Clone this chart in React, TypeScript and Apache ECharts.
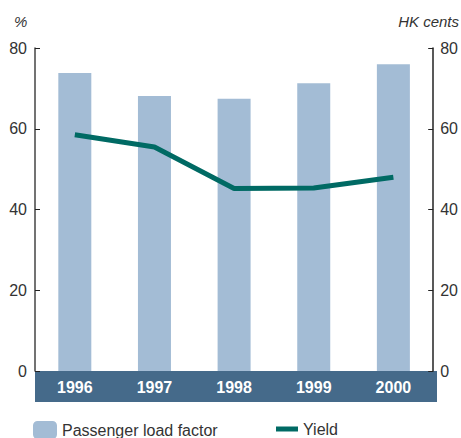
import React, { useEffect, useRef } from "react";
import * as echarts from "echarts";

const years = ["1996", "1997", "1998", "1999", "2000"];
const loadFactor = [73.8, 68.1, 67.4, 71.3, 76.0];
const yieldCents = [58.5, 55.5, 45.2, 45.3, 48.0];

const GRID_LEFT = 35;
const GRID_RIGHT = 25;
const GRID_TOP = 48;
const GRID_BOTTOM = 67;
const W = 461;
const H = 438;
const BAND_H = 31;

export default function App() {
  const ref = useRef<HTMLDivElement>(null);
  useEffect(() => {
    const chart = echarts.init(ref.current!, null, { renderer: "svg" });
    const font = "Liberation Sans, Arial, sans-serif";
    chart.setOption({
      animation: false,
      textStyle: { fontFamily: font },
      grid: { left: GRID_LEFT, right: GRID_RIGHT, top: GRID_TOP, bottom: GRID_BOTTOM },
      graphic: [
        {
          type: "rect",
          z: 0,
          shape: { x: GRID_LEFT, y: H - GRID_BOTTOM, width: W - GRID_LEFT - GRID_RIGHT + 1, height: BAND_H },
          style: { fill: "#456a8a" },
        },
        {
          type: "text",
          left: 14,
          top: 14,
          style: { text: "%", font: "italic 15px " + font, fill: "#333" },
        },
        {
          type: "text",
          right: 2,
          top: 14,
          style: { text: "HK cents", font: "italic 15px " + font, fill: "#333" },
        },
      ],
      legend: [
        {
          data: ["Passenger load factor"],
          left: 33,
          top: 421,
          padding: 0,
          itemWidth: 24,
          itemHeight: 18,
          itemGap: 8,
          textStyle: { fontSize: 16, color: "#333", fontFamily: font },
        },
        {
          data: [{ name: "Yield", icon: "rect" }],
          left: 276,
          top: 421,
          padding: 0,
          itemWidth: 22,
          itemHeight: 5,
          textStyle: { fontSize: 16, color: "#333", fontFamily: font },
        },
      ],
      xAxis: {
        type: "category",
        data: years,
        axisLine: { show: false },
        axisTick: { show: false },
        axisLabel: {
          color: "#fff",
          fontWeight: "bold",
          fontSize: 16,
          margin: 8,
          fontFamily: font,
        },
        z: 5,
      },
      yAxis: [
        {
          type: "value",
          min: 0,
          max: 80,
          interval: 20,
          axisLine: { show: true, lineStyle: { color: "#444", width: 1.5 } },
          axisTick: { show: true, inside: true, length: 5, lineStyle: { color: "#222" } },
          axisLabel: { color: "#333", fontSize: 16, margin: 8, fontFamily: font },
          splitLine: { show: false },
        },
        {
          type: "value",
          position: "right",
          min: 0,
          max: 80,
          interval: 20,
          axisLine: { show: true, lineStyle: { color: "#222", width: 1.5 } },
          axisTick: { show: true, inside: true, length: 5, lineStyle: { color: "#222" } },
          axisLabel: { color: "#333", fontSize: 16, margin: 7, fontFamily: font },
          splitLine: { show: false },
        },
      ],
      series: [
        {
          name: "Passenger load factor",
          type: "bar",
          data: loadFactor,
          barWidth: 33,
          itemStyle: { color: "#a3bcd5" },
          yAxisIndex: 0,
        },
        {
          name: "Yield",
          type: "line",
          data: yieldCents,
          yAxisIndex: 1,
          symbol: "none",
          lineStyle: { color: "#006a64", width: 5 },
          itemStyle: { color: "#006a64" },
        },
      ],
    });
    return () => chart.dispose();
  }, []);
  return <div ref={ref} style={{ width: W, height: H, position: "absolute", left: 0, top: 0 }} />;
}
